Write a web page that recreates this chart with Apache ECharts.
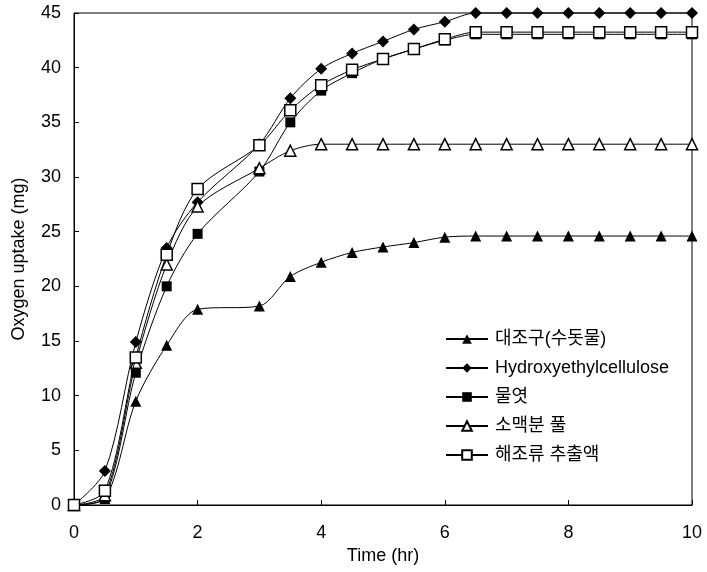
<!DOCTYPE html>
<html><head><meta charset="utf-8">
<script src="https://cdn.jsdelivr.net/npm/echarts@6/dist/echarts.min.js"></script>
<style>html,body{margin:0;padding:0;background:#fff}#c{width:707px;height:572px}</style>
</head><body><div id="c"></div>
<script>
const times = [0,0.5,1,1.5,2,3,3.5,4,4.5,5,5.5,6,6.5,7,7.5,8,8.5,9,9.5,10];
const seriesNames = ['대조구(수돗물)','Hydroxyethylcellulose','물엿','소맥분 풀','해조류 추출액'];
const control = [0,0.6,9.5,14.6,17.9,18.2,20.9,22.2,23.1,23.6,24.0,24.5,24.6,24.6,24.6,24.6,24.6,24.6,24.6,24.6];
const hec = [0,3.1,14.9,23.5,27.7,33.0,37.2,39.9,41.3,42.4,43.5,44.2,45,45,45,45,45,45,45,45];
const mulyeot = [0,0.7,12.1,20.0,24.8,30.5,35.0,37.9,39.5,40.8,41.7,42.5,43.05,43.05,43.05,43.05,43.05,43.05,43.05,43.05];
const wheat = [0,0.9,13.0,22.0,27.3,30.8,32.4,33,33,33,33,33,33,33,33,33,33,33,33,33];
const seaweed = [0,1.3,13.5,22.9,28.9,32.9,36.1,38.4,39.8,40.8,41.7,42.6,43.25,43.25,43.25,43.25,43.25,43.25,43.25,43.25];
const xTicks = [0,2,4,6,8,10];
const yTicks = [0,5,10,15,20,25,30,35,40,45];

const FONT = '"Liberation Sans","Noto Sans CJK KR",sans-serif';
const FS = 18;
const styles = [
  {symbol:'triangle', size:11, fill:'#000'},
  {symbol:'diamond', size:12, fill:'#000'},
  {symbol:'rect', size:10, fill:'#000'},
  {symbol:'triangle', size:11, fill:'#fff'},
  {symbol:'rect', size:11, fill:'#fff'}
];
const vals = [control, hec, mulyeot, wheat, seaweed];
const series = vals.map((v,i)=>({
  name: seriesNames[i],
  type:'line',
  smooth:0.3,
  clip:false,
  data: times.map((t,j)=>[t,v[j]]),
  symbol: styles[i].symbol,
  symbolSize: styles[i].size,
  showAllSymbol:true,
  lineStyle:{color:'#000',width:1},
  itemStyle:{color:styles[i].fill,borderColor:'#000',borderWidth:styles[i].fill==='#fff'?1.5:0},
  z: 2+i
}));
const chart = echarts.init(document.getElementById('c'));
chart.setOption({
  animation:false,
  backgroundColor:'#fff',
  textStyle:{fontFamily:FONT,color:'#000'},
  grid:{left:74,right:15,top:13,bottom:67,show:true,borderColor:'#000',borderWidth:1},
  xAxis:{type:'value',min:0,max:10,interval:2,
    name:'Time (hr)',nameLocation:'middle',nameGap:42,
    nameTextStyle:{fontSize:FS,color:'#000',fontFamily:FONT},
    axisLine:{lineStyle:{color:'#000',width:1}},
    axisTick:{inside:true,length:5,lineStyle:{color:'#000'}},
    axisLabel:{fontSize:FS,color:'#000',margin:19,fontFamily:FONT,formatter:v=>xTicks.includes(v)?String(v):''},
    splitLine:{show:false}},
  yAxis:{type:'value',min:0,max:45,interval:5,
    name:'Oxygen uptake (mg)',nameLocation:'middle',nameGap:46,
    nameTextStyle:{fontSize:FS,color:'#000',fontFamily:FONT},
    axisLine:{show:true,lineStyle:{color:'#000',width:1}},
    axisTick:{show:true,inside:true,length:5,lineStyle:{color:'#000'}},
    axisLabel:{fontSize:FS,color:'#000',margin:13,fontFamily:FONT,formatter:v=>yTicks.includes(v)?String(v):''},
    splitLine:{show:false}},
  legend:{orient:'vertical',left:445,top:330,padding:0,itemWidth:42,itemHeight:12,itemGap:11,
    textStyle:{fontSize:FS,color:'#000',fontFamily:FONT,padding:[0,0,0,2]},
    data:seriesNames},
  series
});
</script></body></html>
